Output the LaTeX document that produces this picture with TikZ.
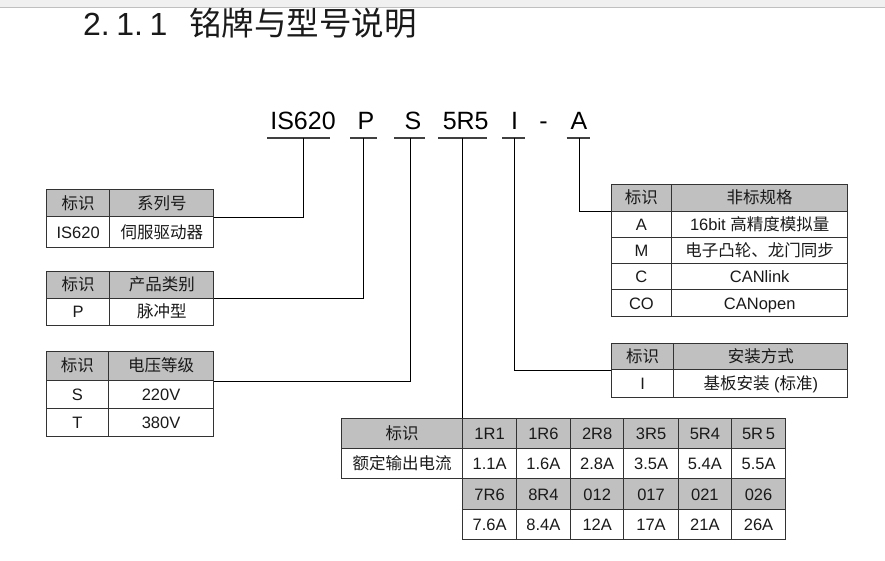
\documentclass[tikz,border=0pt]{standalone}
\usepackage{fontspec}
\setmainfont{Liberation Sans}
\newfontfamily\cjk{Noto Sans CJK SC}
\usetikzlibrary{positioning}
\definecolor{headgray}{HTML}{C0C0C0}
\definecolor{barbg}{HTML}{F0F0F0}
\definecolor{ink}{HTML}{1A1A1A}

\begin{document}
\begin{tikzpicture}[x=1pt, y=-1pt,
  cell/.style 2 args={rectangle, draw=black!80, line width=1.1pt, fill=white, inner sep=0pt,
    anchor=north west, minimum width=#1, minimum height=#2, text height=11.8pt, text depth=0pt,
    text=ink, font=\fontsize{16.5}{18}\selectfont},
  hcell/.style 2 args={cell={#1}{#2}, fill=headgray},
  code/.style={anchor=base, font=\fontsize{25}{28}\selectfont},
  uline/.style={line width=1.3pt, black!75},
  link/.style={line width=0.9pt, black}
]
  \useasboundingbox (0,0) rectangle (885,561);
  % window bar
  \fill[barbg] (0,0) rectangle (885,7);
  \draw[black!25] (0,7) -- (885,7);

  % heading
  \node[anchor=base west, inner sep=0pt, text=ink, font=\fontsize{32}{36}\selectfont] (secno) at (83,36) {2.\hspace{6.5pt}1.\hspace{6.5pt}1};
  \node[anchor=base west, inner sep=0pt, text=ink, font=\fontsize{32.5}{36}\cjk] (sectitle) at (189,36) {铭牌与型号说明};

  % model code
  \node[code] (c1) at (303,130) {IS620};
  \node[code] (c2) at (366,130) {P};
  \node[code] (c3) at (413,130) {S};
  \node[code] (c4) at (465.7,130) {5R5};
  \node[code] (c5) at (514.5,130) {I};
  \node[code] (cdash) at (543.5,130) {-};
  \node[code] (c6) at (579,130) {A};
  \coordinate (u1) at (303,138);
  \coordinate (u2) at (363.3,138);
  \coordinate (u3) at (410,138);
  \coordinate (u4) at (462.3,138);
  \coordinate (u5) at (514.3,138);
  \coordinate (u6) at (579,138);
  \draw[uline] ([xshift=-36]u1) -- ([xshift=27]u1);
  \draw[uline] ([xshift=-13.3]u2) -- ([xshift=13.4]u2);
  \draw[uline] ([xshift=-16]u3) -- ([xshift=15]u3);
  \draw[uline] ([xshift=-24.3]u4) -- ([xshift=24.4]u4);
  \draw[uline] ([xshift=-12.3]u5) -- ([xshift=10.7]u5);
  \draw[uline] ([xshift=-12.3]u6) -- ([xshift=11]u6);

  % series
  \node[hcell={63.3}{26.7}] (serH1) at (46,189.3) {\cjk 标识};
  \node[hcell={104}{26.7}] (serH2) at (109.3,189.3) {\cjk 系列号};
  \node[cell={63.3}{31.3}] (serR1) at (46,216) {IS620};
  \node[cell={104}{31.3}] (serR2) at (109.3,216) {\cjk 伺服驱动器};

  % product type
  \node[hcell={63.3}{27}] (typH1) at (46,270.7) {\cjk 标识};
  \node[hcell={104}{27}] (typH2) at (109.3,270.7) {\cjk 产品类别};
  \node[cell={63.3}{27.6}] (typR1) at (46,297.7) {P};
  \node[cell={104}{27.6}] (typR2) at (109.3,297.7) {\cjk 脉冲型};

  % voltage
  \node[hcell={61.7}{29.3}] (volH1) at (46,350.7) {\cjk 标识};
  \node[hcell={105.6}{29.3}] (volH2) at (107.7,350.7) {\cjk 电压等级};
  \node[cell={61.7}{28.3}] (volS1) at (46,380) {S};
  \node[cell={105.6}{28.3}] (volS2) at (107.7,380) {220V};
  \node[cell={61.7}{27.7}] (volT1) at (46,408.3) {T};
  \node[cell={105.6}{27.7}] (volT2) at (107.7,408.3) {380V};

  % non-standard options
  \node[hcell={60.3}{26.7}] (optH1) at (610.7,184) {\cjk 标识};
  \node[hcell={176.3}{26.7}] (optH2) at (671,184) {\cjk 非标规格};
  \node[cell={60.3}{26}] (optA1) at (610.7,210.7) {A};
  \node[cell={176.3}{26}] (optA2) at (671,210.7) {16bit {\cjk 高精度模拟量}};
  \node[cell={60.3}{26.6}] (optM1) at (610.7,236.7) {M};
  \node[cell={176.3}{26.6}] (optM2) at (671,236.7) {\cjk 电子凸轮、龙门同步};
  \node[cell={60.3}{26}] (optC1) at (610.7,263.3) {C};
  \node[cell={176.3}{26}] (optC2) at (671,263.3) {CANlink};
  \node[cell={60.3}{26.7}] (optO1) at (610.7,289.3) {CO};
  \node[cell={176.3}{26.7}] (optO2) at (671,289.3) {CANopen};

  % mounting
  \node[hcell={62.6}{26}] (mntH1) at (610.7,343.3) {\cjk 标识};
  \node[hcell={174}{26}] (mntH2) at (673.3,343.3) {\cjk 安装方式};
  \node[cell={62.6}{27.4}] (mntI1) at (610.7,369.3) {I};
  \node[cell={174}{27.4}] (mntI2) at (673.3,369.3) {{\cjk 基板安装} ({\cjk 标准})};

  % rated current
  \node[hcell={121.6}{30}] (curH1) at (340.7,418.3) {\cjk 标识};
  \node[hcell={53.4}{30}] (curH2) at (462.3,418.3) {1R1};
  \node[hcell={54.3}{30}] (curH3) at (515.7,418.3) {1R6};
  \node[hcell={53.3}{30}] (curH4) at (570,418.3) {2R8};
  \node[hcell={54.4}{30}] (curH5) at (623.3,418.3) {3R5};
  \node[hcell={53.3}{30}] (curH6) at (677.7,418.3) {5R4};
  \node[hcell={54}{30}] (curH7) at (731,418.3) {5R\,5};
  \node[cell={121.6}{30}] (curR1) at (340.7,448.3) {\cjk 额定输出电流};
  \node[cell={53.4}{30}] (curR2) at (462.3,448.3) {1.1A};
  \node[cell={54.3}{30}] (curR3) at (515.7,448.3) {1.6A};
  \node[cell={53.3}{30}] (curR4) at (570,448.3) {2.8A};
  \node[cell={54.4}{30}] (curR5) at (623.3,448.3) {3.5A};
  \node[cell={53.3}{30}] (curR6) at (677.7,448.3) {5.4A};
  \node[cell={54}{30}] (curR7) at (731,448.3) {5.5A};
  \node[hcell={53.4}{31}] (curK2) at (462.3,478.3) {7R6};
  \node[hcell={54.3}{31}] (curK3) at (515.7,478.3) {8R4};
  \node[hcell={53.3}{31}] (curK4) at (570,478.3) {012};
  \node[hcell={54.4}{31}] (curK5) at (623.3,478.3) {017};
  \node[hcell={53.3}{31}] (curK6) at (677.7,478.3) {021};
  \node[hcell={54}{31}] (curK7) at (731,478.3) {026};
  \node[cell={53.4}{30}] (curV2) at (462.3,509.3) {7.6A};
  \node[cell={54.3}{30}] (curV3) at (515.7,509.3) {8.4A};
  \node[cell={53.3}{30}] (curV4) at (570,509.3) {12A};
  \node[cell={54.4}{30}] (curV5) at (623.3,509.3) {17A};
  \node[cell={53.3}{30}] (curV6) at (677.7,509.3) {21A};
  \node[cell={54}{30}] (curV7) at (731,509.3) {26A};

  % leaders
  \draw[link] (u1) |- (serH2.south east);
  \draw[link] (u2) |- (typH2.south east);
  \draw[link] (u3) |- (volH2.south east);
  \draw[link] (u4) -- (curH2.north west);
  \draw[link] (u5) |- (mntH1.south west);
  \draw[link] (u6) |- (optH1.south west);
\end{tikzpicture}
\end{document}
